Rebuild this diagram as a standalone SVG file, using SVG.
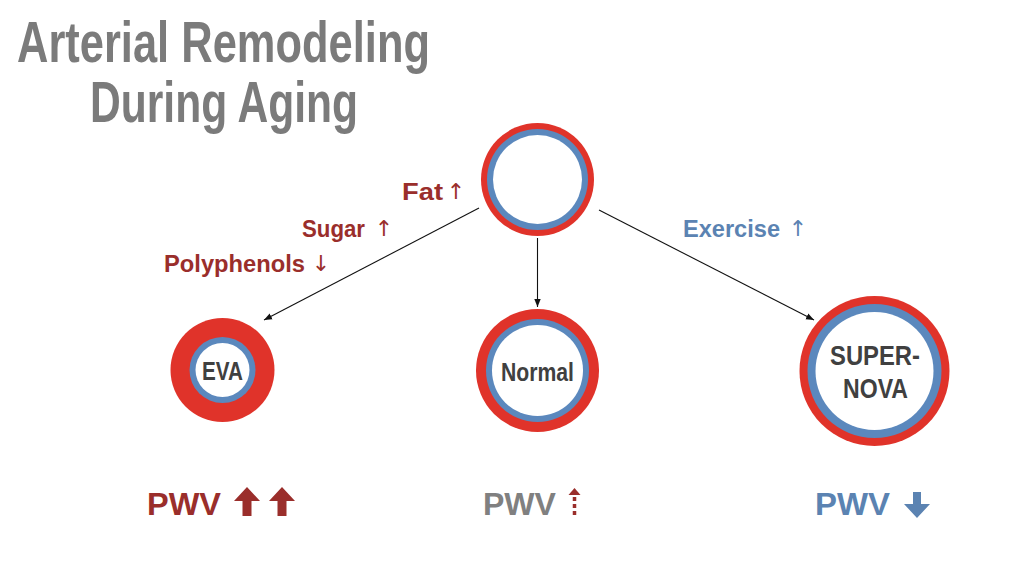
<svg xmlns="http://www.w3.org/2000/svg" width="1024" height="576" viewBox="0 0 1024 576">
<style>
.red{fill:#e0332a}
.blue{fill:#5b88bd}
.white{fill:#ffffff}
.ntext{font-family:"Liberation Sans",Arial,sans-serif;font-weight:bold;fill:#404040;text-anchor:middle}
.lbl{font-family:"Liberation Sans",Arial,sans-serif;font-weight:bold;font-size:23px}
.arr{font-family:"DejaVu Sans",sans-serif;font-weight:normal;font-size:22px;text-anchor:middle}
.dred{fill:#9a2e2b}
.sblue{fill:#5b83b2}
.pwv{font-family:"Liberation Sans",Arial,sans-serif;font-weight:bold;font-size:31px}
.title{font-family:"Liberation Sans",Arial,sans-serif;font-weight:bold;font-size:58px;fill:#7b7b7b}
.conn{stroke:#111;stroke-width:1.1;fill:none;marker-end:url(#ah)}
</style>
<defs>
<marker id="ah" markerWidth="9" markerHeight="8" refX="8" refY="4" orient="auto" markerUnits="userSpaceOnUse">
<path d="M0,0.8 L8,4 L0,7.2 Z" fill="#111"/>
</marker>
</defs>
<rect width="1024" height="576" fill="#ffffff"/>
<g id="title">
<text class="title" x="17" y="62" textLength="413" lengthAdjust="spacingAndGlyphs">Arterial Remodeling</text>
<text class="title" x="90" y="122" textLength="268" lengthAdjust="spacingAndGlyphs">During Aging</text>
</g>
<g id="connectors">
<line class="conn" x1="479" y1="208" x2="264" y2="320"/>
<line class="conn" x1="537.5" y1="238" x2="537.5" y2="307"/>
<line class="conn" x1="599" y1="210" x2="814" y2="320"/>
</g>
<g id="labels">
<text class="lbl dred" x="402" y="200" textLength="41" lengthAdjust="spacingAndGlyphs">Fat</text>
<text class="arr dred" x="456" y="199">↑</text>
<text class="lbl dred" x="302" y="237" textLength="63" lengthAdjust="spacingAndGlyphs">Sugar</text>
<text class="arr dred" x="384" y="236">↑</text>
<text class="lbl dred" x="164" y="272" textLength="141" lengthAdjust="spacingAndGlyphs">Polyphenols</text>
<text class="arr dred" x="321" y="271">↓</text>
<text class="lbl sblue" x="683" y="237" textLength="97" lengthAdjust="spacingAndGlyphs">Exercise</text>
<text class="arr sblue" x="798" y="236">↑</text>
</g>
<g id="node-top">
<circle class="red" cx="537.5" cy="179.5" r="56.5"/>
<circle class="blue" cx="537.5" cy="179.5" r="50.5"/>
<circle class="white" cx="537.5" cy="179.5" r="44.5"/>
</g>
<g id="node-eva">
<circle class="red" cx="222.5" cy="370" r="52"/>
<circle class="blue" cx="222.5" cy="370" r="33"/>
<circle class="white" cx="222.5" cy="370" r="27"/>
<text class="ntext" x="222.5" y="380" font-size="25" textLength="41" lengthAdjust="spacingAndGlyphs">EVA</text>
</g>
<g id="node-normal">
<circle class="red" cx="537.5" cy="370.5" r="61.5"/>
<circle class="blue" cx="537.5" cy="370.5" r="51.5"/>
<circle class="white" cx="537.5" cy="370.5" r="45.5"/>
<text class="ntext" x="537.5" y="381" font-size="25" textLength="73" lengthAdjust="spacingAndGlyphs">Normal</text>
</g>
<g id="node-supernova">
<circle class="red" cx="874.5" cy="371" r="75"/>
<circle class="blue" cx="874.5" cy="371" r="67"/>
<circle class="white" cx="874.5" cy="371" r="59"/>
<text class="ntext" x="875" y="365" font-size="28" textLength="90" lengthAdjust="spacingAndGlyphs">SUPER-</text>
<text class="ntext" x="875.5" y="398" font-size="28" textLength="65" lengthAdjust="spacingAndGlyphs">NOVA</text>
</g>
<g id="pwv-eva">
<text class="pwv dred" x="147" y="515" textLength="74" lengthAdjust="spacingAndGlyphs">PWV</text>
<path class="dred" d="M247,487 L260,501 L251.5,501 L251.5,516 L242.5,516 L242.5,501 L234,501 Z"/>
<path class="dred" d="M282,487 L295,501 L286.5,501 L286.5,516 L277.5,516 L277.5,501 L269,501 Z"/>
</g>
<g id="pwv-normal">
<text class="pwv" fill="#808080" x="483" y="515" textLength="73" lengthAdjust="spacingAndGlyphs">PWV</text>
<path class="dred" d="M574.5,488 L580.5,495 L568.5,495 Z"/>
<line x1="574.5" y1="497" x2="574.5" y2="517" stroke="#9a2e2b" stroke-width="3.5" stroke-dasharray="4 3"/>
</g>
<g id="pwv-supernova">
<text class="pwv sblue" x="815" y="515" textLength="75" lengthAdjust="spacingAndGlyphs">PWV</text>
<path class="sblue" d="M913,492 L921,492 L921,504 L930,504 L917,518 L904,504 L913,504 Z"/>
</g>
</svg>
